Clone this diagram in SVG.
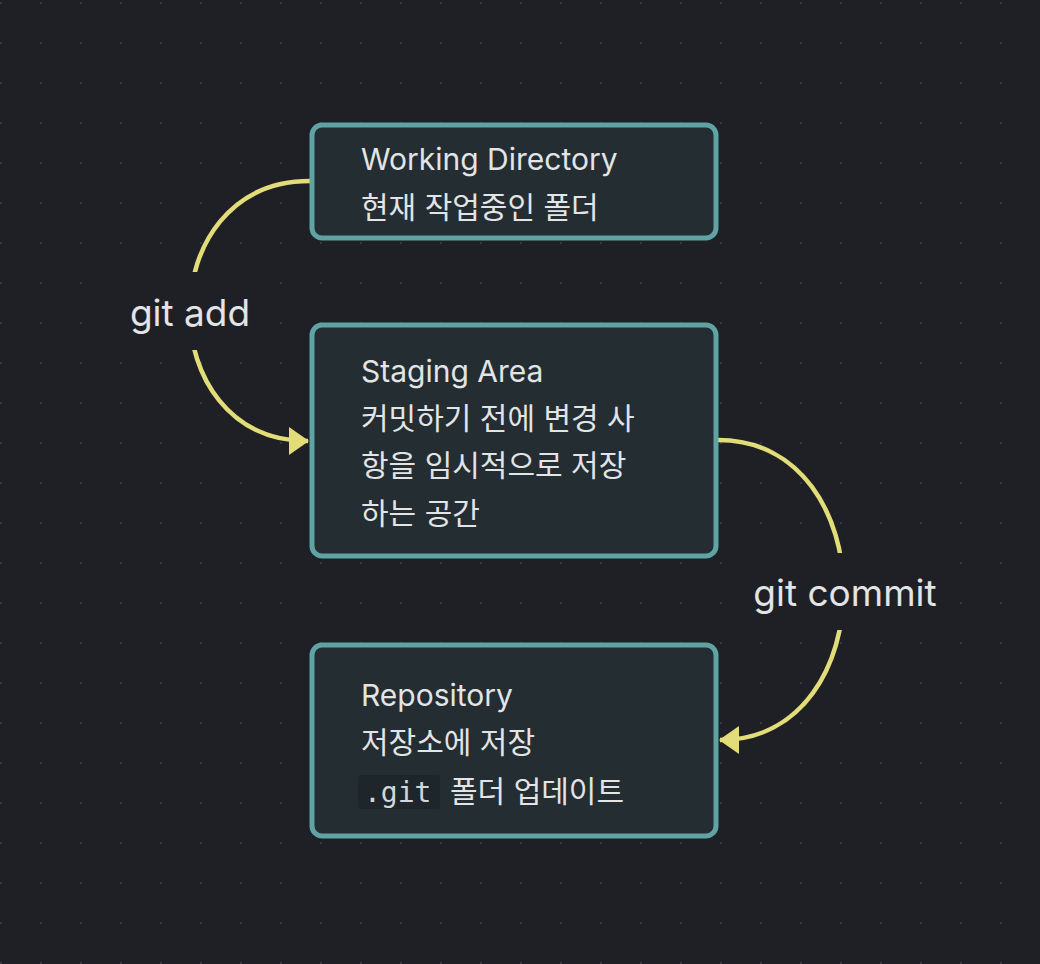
<svg xmlns="http://www.w3.org/2000/svg" width="1040" height="964" viewBox="0 0 1040 964">
<defs>
<pattern id="dots" x="0" y="2" width="40" height="40" patternUnits="userSpaceOnUse">
<rect x="0" y="0" width="2" height="2" fill="#363a40"/>
</pattern>
<marker id="arrow" viewBox="0 0 20 28" refX="19" refY="14" markerWidth="20" markerHeight="28" markerUnits="userSpaceOnUse" orient="auto">
<path d="M0,0 L20,14 L0,28 Z" fill="#e2dd78"/>
</marker>
<style>
.box{fill:#232d32;stroke:#5fa3a4;stroke-width:5}
.t{font-family:Inter,"Noto Sans CJK KR",sans-serif;font-size:30px;fill:#e2e4e6}
.lbl{font-family:Inter,"Noto Sans",sans-serif;font-size:37px;fill:#e2e4e6;text-anchor:middle}
.edge{fill:none;stroke:#e2dd78;stroke-width:4.5}
.mono{font-family:"DejaVu Sans Mono",monospace;font-size:28px;fill:#d4d6d8}
</style>
</defs>
<rect width="1040" height="964" fill="#1e2025"/>
<rect width="1040" height="964" fill="url(#dots)"/>
<g id="connectors">
<path class="edge" d="M310,181 C150,181 150,441 308,441" marker-end="url(#arrow)"/>
<path class="edge" d="M718,440 C885,440 885,740 720,740" marker-end="url(#arrow)"/>
<rect x="120" y="272" width="140" height="78" fill="#1e2025"/>
<rect x="745" y="553" width="200" height="77" fill="#1e2025"/>
<text class="lbl" x="190" y="326">git add</text>
<text class="lbl" x="845" y="606">git commit</text>
</g>
<g id="working-directory">
<rect class="box" x="312" y="125" width="404" height="113" rx="10"/>
<text class="t" x="361" y="170">Working Directory</text>
<text class="t" x="361" y="218">현재 작업중인 폴더</text>
</g>
<g id="staging-area">
<rect class="box" x="312" y="325" width="404" height="231" rx="10"/>
<text class="t" x="361" y="382">Staging Area</text>
<text class="t" x="361" y="429">커밋하기 전에 변경 사</text>
<text class="t" x="361" y="476">항을 임시적으로 저장</text>
<text class="t" x="361" y="524">하는 공간</text>
</g>
<g id="repository">
<rect class="box" x="312" y="645" width="404" height="191" rx="10"/>
<text class="t" x="361" y="706">Repository</text>
<text class="t" x="361" y="753">저장소에 저장</text>
<rect x="358" y="775" width="82" height="34" rx="3" fill="#1f262b"/>
<text class="mono" x="364" y="802">.git</text>
<text class="t" x="450" y="802">폴더 업데이트</text>
</g>
</svg>
